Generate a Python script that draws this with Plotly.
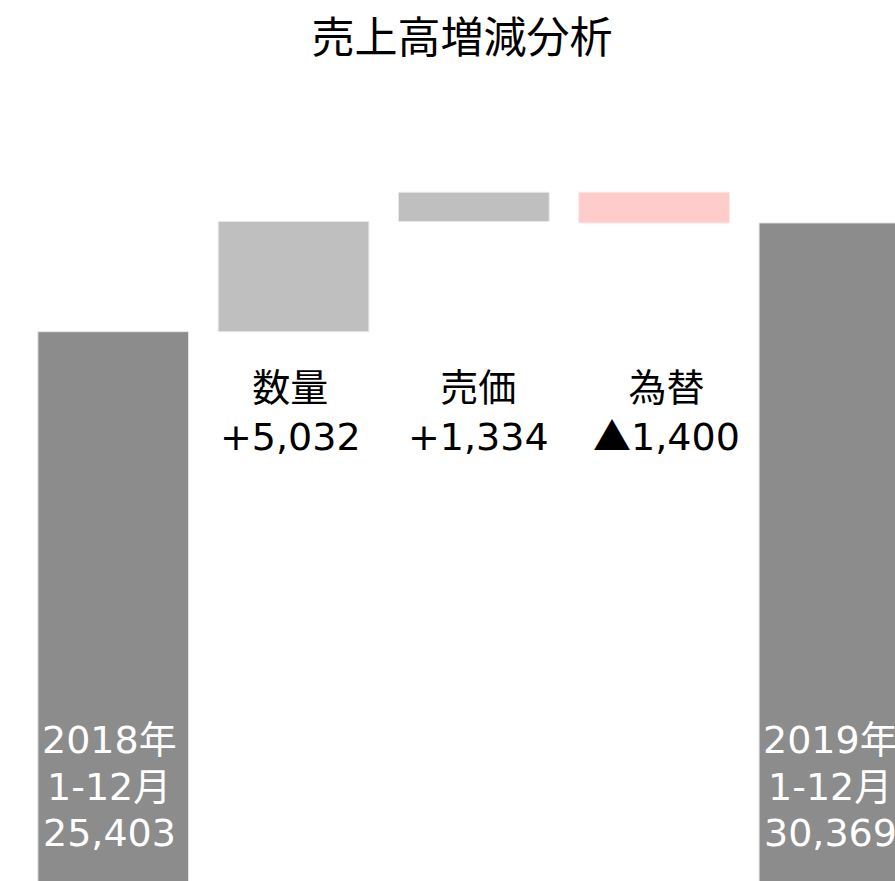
import plotly.graph_objects as go

# ---- data ----
categories = ["2018年 1-12月", "数量", "売価", "為替", "2019年 1-12月"]
label_lines = [["2018年", "1-12月"], ["数量"], ["売価"], ["為替"], ["2019年", "1-12月"]]
values = [25403, 5032, 1334, -1400, 30369]
measures = ["absolute", "relative", "relative", "relative", "total"]

TOTAL_COLOR = "#8c8c8c"
UP_COLOR = "#bfbfbf"
DOWN_COLOR = "#ffcccc"
FONT = "DejaVu Sans, Noto Sans CJK JP, sans-serif"
CJK = "Noto Sans CJK JP"

Y_MIN, Y_MAX = 320, 35982

fig = go.Figure(go.Waterfall(
    x=categories,
    y=values,
    measure=measures,
    width=0.836,
    connector=dict(visible=False),
    totals=dict(marker=dict(color=TOTAL_COLOR, line=dict(color="#e8e8e8", width=1))),
    increasing=dict(marker=dict(color=UP_COLOR, line=dict(color="#e8e8e8", width=1))),
    decreasing=dict(marker=dict(color=DOWN_COLOR, line=dict(color="#ffe6e6", width=1))),
    hoverinfo="skip",
    textinfo="none",
))

def fmt(v, m):
    if m in ("total", "absolute"):
        return f"{v:,}"
    if v >= 0:
        return f"+{v:,}"
    return f"<span style=\"font-family:{CJK}\">▲</span>{abs(v):,}"

rel_xshift = {"数量": -3, "売価": 5, "為替": 12}

annotations = []
for cat, lines, v, m in zip(categories, label_lines, values, measures):
    if m in ("total", "absolute"):
        rows = lines + [fmt(v, m)]
        n = len(rows)
        for j, row in enumerate(rows):
            annotations.append(dict(
                x=cat, y=Y_MIN, xref="x", yref="y", text=row, showarrow=False,
                yanchor="middle", xanchor="center",
                yshift=48 + (n - 1 - j) * 46.5, xshift=-4,
                font=dict(family=FONT, size=38, color="white"),
            ))
    else:
        txt = "<br>".join(lines + [fmt(v, m)])
        annotations.append(dict(
            x=cat, y=values[0], xref="x", yref="y", text=txt, showarrow=False,
            yanchor="top", xanchor="center", yshift=-32,
            xshift=rel_xshift.get(lines[0], 0),
            font=dict(family=FONT, size=38, color="black"),
        ))

fig.update_layout(
    width=895, height=881,
    margin=dict(l=0, r=0, t=100, b=0),
    paper_bgcolor="white", plot_bgcolor="white",
    showlegend=False,
    title=dict(text="売上高増減分析", x=462 / 895, xanchor="center", xref="paper",
               y=1 - 38 / 881, yanchor="middle", yref="container",
               font=dict(family=FONT, size=43, color="black")),
    xaxis=dict(range=[-0.628, 4.336], showticklabels=False, showgrid=False,
               zeroline=False, showline=False, fixedrange=True),
    yaxis=dict(range=[Y_MIN, Y_MAX], showticklabels=False, showgrid=False,
               zeroline=False, showline=False, fixedrange=True),
    annotations=annotations,
)

fig.write_html("out.html", config={"displayModeBar": False},
               post_script="document.body.style.margin='0';document.body.style.overflow='hidden';")
